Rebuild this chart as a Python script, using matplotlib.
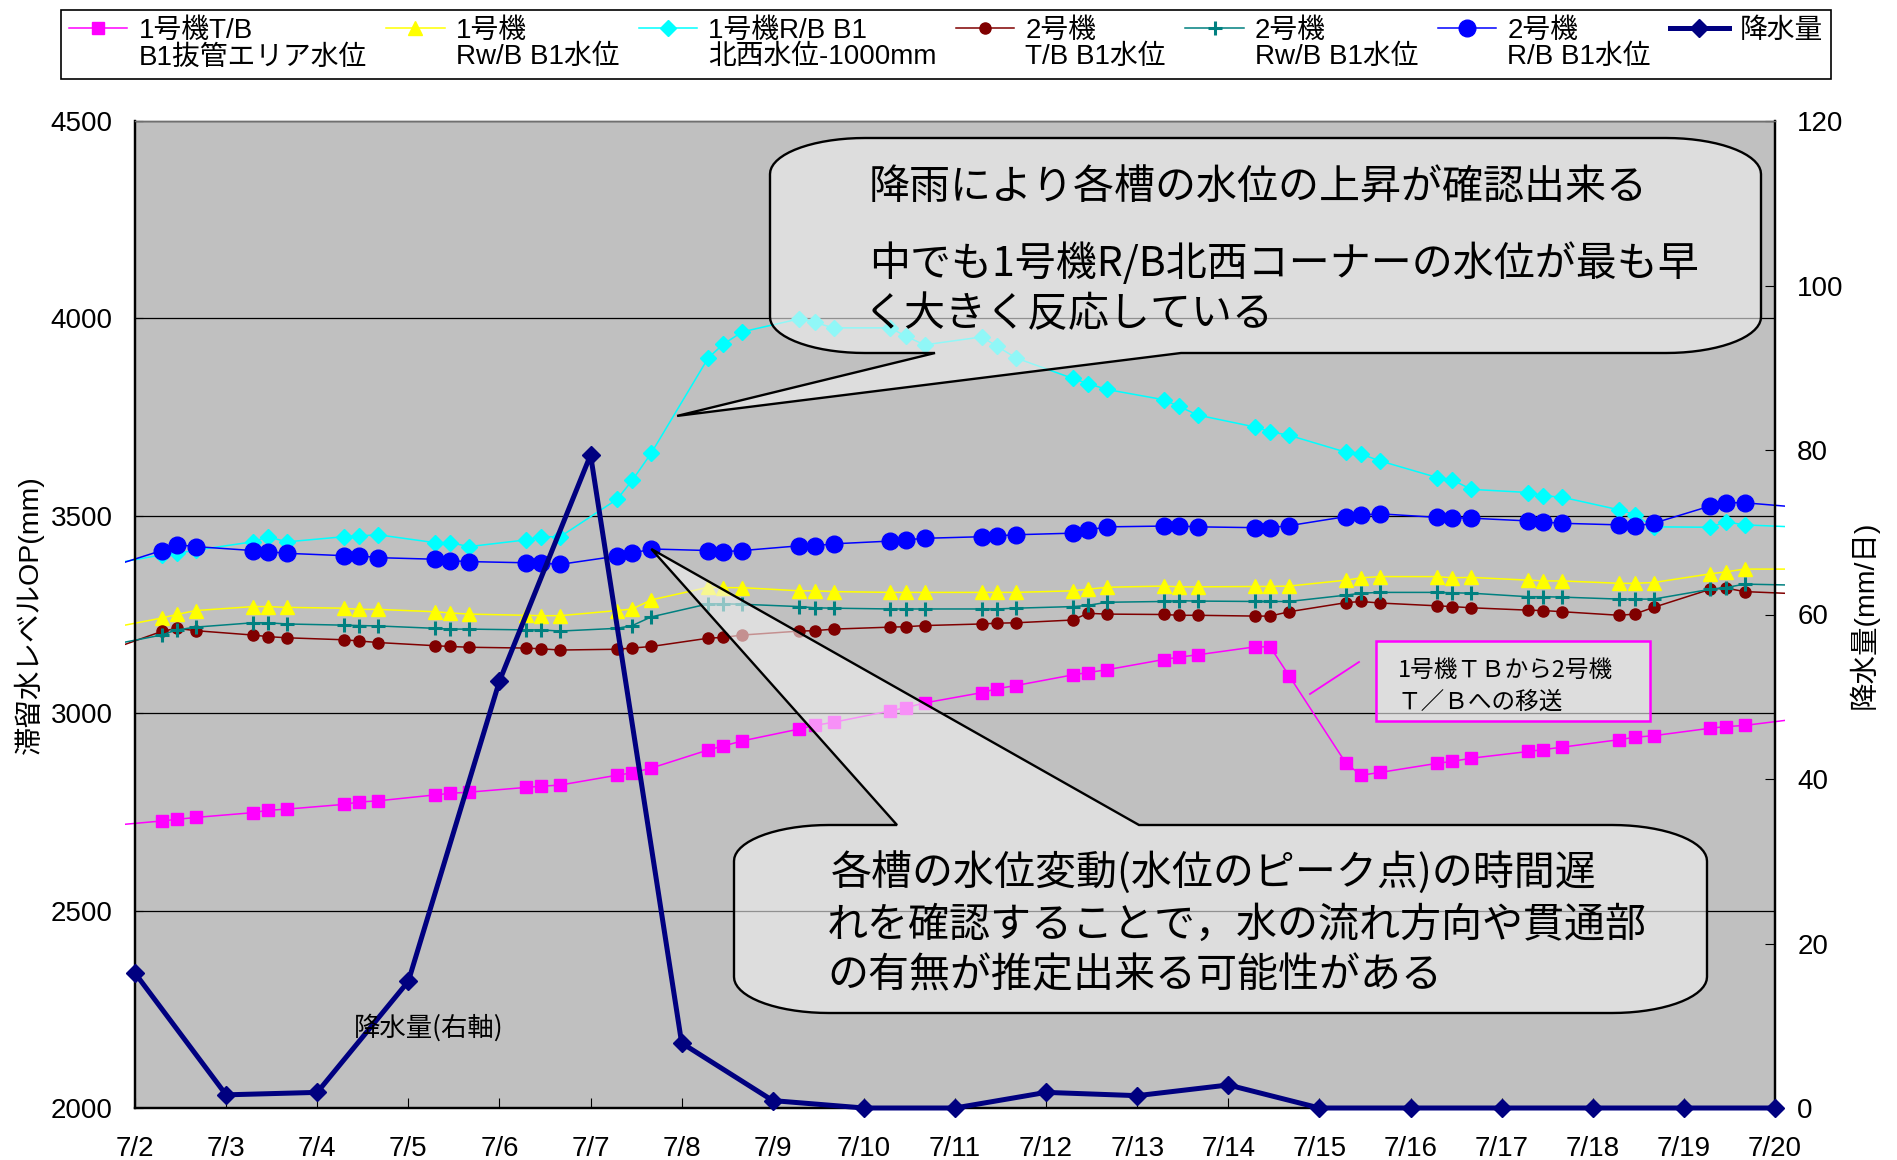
import numpy as np
import matplotlib
matplotlib.use('Agg')
import matplotlib.pyplot as plt
from matplotlib.lines import Line2D
from matplotlib.patches import Polygon, Rectangle

plt.rcParams['font.family'] = ['Liberation Sans', 'Noto Sans CJK JP', 'DejaVu Sans']
JP = ['Noto Sans CJK JP', 'DejaVu Sans']

W, H = 1897, 1160

# --- data ---------------------------------------------------------------
dates = ['7/2', '7/3', '7/4', '7/5', '7/6', '7/7', '7/8', '7/9', '7/10', '7/11',
         '7/12', '7/13', '7/14', '7/15', '7/16', '7/17', '7/18', '7/19', '7/20']
read_hours = [7, 11, 16]      # three readings a day

# water level OP (mm), 3 readings per day 7/2 .. 7/19
lvl_1tb = [2727, 2731, 2736, 2748, 2754, 2757, 2769, 2775, 2778, 2793, 2797, 2800,
           2812, 2815, 2818, 2843, 2849, 2861, 2907, 2917, 2930, 2960, 2969, 2977,
           3006, 3014, 3026, 3052, 3062, 3070, 3097, 3103, 3110, 3136, 3142, 3148,
           3168, 3168, 3095, 2873, 2843, 2850, 2873, 2878, 2886, 2903, 2908, 2914,
           2933, 2939, 2943, 2962, 2966, 2969]
lvl_1rw = [3241, 3250, 3260, 3270, 3270, 3268, 3266, 3263, 3263, 3257, 3254, 3251,
           3248, 3247, 3247, 3260, 3264, 3287, 3319, 3318, 3318, 3310, 3310, 3308,
           3306, 3306, 3306, 3306, 3306, 3306, 3310, 3314, 3319, 3322, 3320, 3320,
           3321, 3321, 3322, 3337, 3343, 3346, 3346, 3343, 3344, 3337, 3335, 3335,
           3329, 3329, 3331, 3353, 3358, 3365]
lvl_1rb = [3401, 3405, 3413, 3434, 3447, 3434, 3447, 3449, 3452, 3432, 3432, 3422,
           3439, 3447, 3447, 3542, 3590, 3659, 3900, 3935, 3966, 3999, 3990, 3976,
           3976, 3955, 3933, 3953, 3930, 3900, 3848, 3835, 3820, 3794, 3777, 3755,
           3725, 3713, 3704, 3661, 3656, 3639, 3597, 3591, 3567, 3559, 3551, 3547,
           3515, 3503, 3472, 3471, 3485, 3477]
lvl_2tb = [3207, 3215, 3209, 3198, 3194, 3191, 3186, 3183, 3179, 3171, 3169, 3167,
           3165, 3163, 3160, 3162, 3165, 3169, 3190, 3192, 3198, 3208, 3209, 3213,
           3218, 3219, 3222, 3226, 3228, 3229, 3236, 3253, 3251, 3250, 3248, 3248,
           3246, 3246, 3257, 3280, 3283, 3279, 3272, 3270, 3267, 3261, 3260, 3257,
           3248, 3251, 3268, 3314, 3317, 3308]
lvl_2rw = [3198, 3211, 3218, 3229, 3229, 3226, 3223, 3222, 3221, 3215, 3213, 3213,
           3211, 3211, 3208, 3215, 3222, 3244, 3277, 3277, 3276, 3270, 3267, 3266,
           3264, 3264, 3264, 3264, 3264, 3266, 3270, 3273, 3281, 3283, 3285, 3284,
           3283, 3283, 3283, 3299, 3304, 3306, 3306, 3305, 3304, 3295, 3295, 3294,
           3289, 3289, 3289, 3314, 3318, 3327]
lvl_2rb = [3412, 3427, 3422, 3412, 3409, 3405, 3399, 3399, 3394, 3390, 3386, 3384,
           3381, 3380, 3377, 3398, 3405, 3416, 3412, 3409, 3412, 3424, 3424, 3429,
           3436, 3439, 3443, 3447, 3449, 3452, 3456, 3464, 3472, 3474, 3474, 3472,
           3470, 3470, 3475, 3498, 3502, 3505, 3496, 3495, 3494, 3487, 3484, 3481,
           3477, 3474, 3481, 3525, 3533, 3533]

# last reading of 7/1 and first of 7/20 (off the chart, lines run to the edge)
prev_day = [2714, 3213, 3375, 3156, 3170, 3366]
next_day = [2987, 3365, 3471, 3302, 3324, 3521]

# daily rainfall (mm/day) 7/2 .. 7/20
rain = [16.4, 1.6, 1.9, 15.4, 51.9, 79.4, 7.9, 0.9, 0, 0, 1.9, 1.5, 2.8,
        0, 0, 0, 0, 0, 0]

labels = ['1号機T/B\nB1抜管エリア水位', '1号機\nRw/B B1水位', '1号機R/B B1\n北西水位-1000mm',
          '2号機\nT/B B1水位', '2号機\nRw/B B1水位', '2号機\nR/B B1水位', '降水量']

# --- figure ---------------------------------------------------------------
fig = plt.figure(figsize=(W / 100, H / 100), dpi=100)
fig.patch.set_facecolor('white')
ax = fig.add_axes([135 / W, 1 - 1108 / H, 1640 / W, 987 / H])
ax.set_facecolor('#C0C0C0')
ax2 = ax.twinx()

t = np.repeat(np.arange(18), 3) + np.tile(read_hours, 18) / 24.0
t_full = np.r_[-8 / 24.0, t, 18 + 7 / 24.0]

styles = [('#FF00FF', 's', 9, 1),
          ('#FFFF00', '^', 10, 1),
          ('#00FFFF', 'D', 8.5, 1),
          ('#800000', 'o', 8, 1),
          ('#008080', '+', 10, 2.2),
          ('#0000FF', 'o', 12, 1)]
series = [lvl_1tb, lvl_1rw, lvl_1rb, lvl_2tb, lvl_2rw, lvl_2rb]

handles = []
for i, (vals, (col, mk, ms, mew)) in enumerate(zip(series, styles)):
    y = np.r_[prev_day[i], vals, next_day[i]]
    ln, = ax.plot(t_full, y, color=col, lw=1.1, marker=mk, ms=ms,
                  mfc=col, mec=col, mew=mew)
    ln.set_clip_path(Rectangle((-0.006, 0), 1.012, 1, transform=ax.transAxes))
    handles.append(ln)

rl, = ax2.plot(np.arange(19), rain, color='#000080', lw=3.6, marker='D', ms=9.5,
               mfc='#000080', mec='#000080', clip_on=False, zorder=5)
handles.append(rl)

ax.set_xlim(0, 18)
ax.set_ylim(2000, 4500)
ax2.set_ylim(0, 120)
ax.set_yticks(range(2000, 4501, 500))
ax2.set_yticks(range(0, 121, 20))
ax.set_xticks(range(19))
ax.set_xticklabels(dates)
ax.yaxis.grid(True, color='black', lw=0.9)
ax.set_axisbelow(True)

ax.tick_params(axis='x', direction='in', length=7, pad=20, labelsize=20)
ax.tick_params(axis='y', direction='in', length=6, pad=16, labelsize=20)
ax2.tick_params(axis='y', direction='in', length=7, pad=16, labelsize=20)

for a in (ax, ax2):
    for s in ('left', 'bottom', 'right'):
        a.spines[s].set_linewidth(1.6)
        a.spines[s].set_color('black')
    a.spines['top'].set_color('#707070')
    a.spines['top'].set_linewidth(1.0)

ax.set_ylabel('滞留水レベルOP(mm)', fontsize=20.5)
ax.yaxis.set_label_coords(-0.0646, 0.5)
ax.yaxis.label.set_verticalalignment('center')
ax2.set_ylabel('降水量(mm/日)', fontsize=20.5)
ax2.yaxis.set_label_coords(1.0537, 0.5)
ax2.yaxis.label.set_verticalalignment('center')

# legend: two rows, handle next to the first line of each label
blank = Line2D([], [], linestyle='none', color='none')
leg_h, leg_l = [], []
for h, lab in zip(handles, labels):
    parts = lab.split('\n') + ['']
    leg_h += [h, blank]
    leg_l += [parts[0], parts[1]]
leg = fig.legend(leg_h, leg_l, loc='upper center', bbox_to_anchor=(946 / W, 1 - 9.5 / H),
                 ncol=7, fontsize=20, frameon=True, fancybox=False, edgecolor='black',
                 framealpha=1, borderpad=0.3, handlelength=2.1, handletextpad=0.4,
                 columnspacing=0.7, labelspacing=0.02, borderaxespad=0)
leg.get_frame().set_linewidth(1.2)


# --- callouts (pixel coords, top-left origin) -----------------------------
def fpt(x, y):
    return (x / W, 1 - y / H)


def data_px(xd, yd):
    px, py = ax.transData.transform((xd, yd))
    return (px, H - py)


def arc(cx, cy, rx, ry, a0, a1):
    a = np.radians(np.linspace(a0, a1, 18))
    return list(zip(cx + rx * np.cos(a), cy + ry * np.sin(a)))


def bubble(x0, y0, x1, y1, rx, ry, side, b0, b1, tip):
    pts = arc(x0 + rx, y0 + ry, rx, ry, 180, 270)
    if side == 'top':
        pts += [(b0, y0), tip, (b1, y0)]
    pts += arc(x1 - rx, y0 + ry, rx, ry, 270, 360)
    pts += arc(x1 - rx, y1 - ry, rx, ry, 0, 90)
    if side == 'bottom':
        pts += [(b1, y1), tip, (b0, y1)]
    pts += arc(x0 + rx, y1 - ry, rx, ry, 90, 180)
    poly = Polygon([fpt(x, y) for x, y in pts], closed=True, transform=fig.transFigure,
                   facecolor=(0.95, 0.95, 0.95, 0.6), edgecolor='black', lw=1.7)
    fig.add_artist(poly)


bubble(770, 138, 1761, 353, 95, 36, 'bottom', 935, 1181, data_px(5.95, 3753))
bubble(734, 825, 1707, 1013, 95, 36, 'top', 897, 1139, data_px(5 + 16 / 24.0, 3416))

fs_big = 29.5
for txt, x, y in [('降雨により各槽の水位の上昇が確認出来る', 869, 187),
                  ('中でも1号機R/B北西コーナーの水位が最も早', 869, 264),
                  ('く大きく反応している', 864, 315),
                  ('各槽の水位変動(水位のピーク点)の時間遅', 831, 872),
                  ('れを確認することで，水の流れ方向や貫通部', 827, 925),
                  ('の有無が推定出来る可能性がある', 827, 976)]:
    fig.text(*fpt(x, y), txt, fontsize=fs_big, ha='left', va='center', family=JP)

# transfer note
box = Rectangle(fpt(1376, 721), 274 / W, 80 / H, transform=fig.transFigure,
                facecolor=(0.95, 0.95, 0.95, 0.6), edgecolor='#FF00FF', lw=1.8)
fig.add_artist(box)
fig.text(*fpt(1398, 670), '1号機ＴＢから2号機', fontsize=17, ha='left', va='center', family=JP)
fig.text(*fpt(1398, 702), 'Ｔ／Ｂへの移送', fontsize=17, ha='left', va='center', family=JP)
fig.add_artist(Line2D([1359 / W, 1310 / W], [1 - 662 / H, 1 - 694 / H],
                      transform=fig.transFigure, color='#FF00FF', lw=1.3))

fig.text(*fpt(354, 1028), '降水量(右軸)', fontsize=19, ha='left', va='center', family=JP)

fig.savefig('out.png', dpi=100)
